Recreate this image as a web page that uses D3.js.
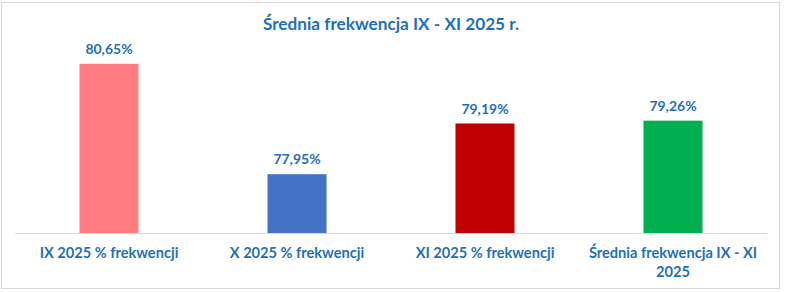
<!DOCTYPE html>
<html>
<head>
<meta charset="utf-8">
<script src="https://cdn.jsdelivr.net/npm/d3@7"></script>
<style>
  body { margin: 0; background: #fff; }
  text { font-family: Lato, "Open Sans", sans-serif; font-weight: bold; fill: #1f6fb8; }
</style>
</head>
<body>
<div class="chart"></div>
<script>
// dane
var categories = [["IX 2025 % frekwencji"], ["X 2025 % frekwencji"], ["XI 2025 % frekwencji"], ["Średnia frekwencja IX - XI", "2025"]];
var values = [80.65, 77.95, 79.19, 79.26];
var colors = ["#ff7c80", "#4472c4", "#c00000", "#00b050"];
var title = "Średnia frekwencja IX - XI 2025 r.";

drawChart();

function drawChart(){
    var w = 785;
    var h = 292;

    var svg = d3.select(".chart")
    .append("svg")
    .attr("width", w)
    .attr("height", h);

    // ramka wykresu
    svg.append("rect")
    .attr("x", 1.5).attr("y", 2.5)
    .attr("width", 778).attr("height", 286)
    .attr("fill", "#fff")
    .attr("stroke", "#d9d9d9");

    var x = d3.scaleBand()
    .domain(d3.range(values.length))
    .range([15, 767])
    .paddingInner(0.686)
    .paddingOuter(0.343);

    var y = d3.scaleLinear()
    .domain([76.5, 81])
    .range([233.5, 49.5]);

    // słupki
    svg.selectAll(".bar")
    .data(values)
    .enter()
    .append("rect")
    .attr("class", "bar")
    .attr("x", function(d, i){ return x(i); })
    .attr("y", function(d){ return y(d); })
    .attr("width", x.bandwidth())
    .attr("height", function(d){ return y(76.5) - y(d); })
    .attr("fill", function(d, i){ return colors[i]; });

    // oś X
    svg.append("line")
    .attr("x1", 15).attr("x2", 767)
    .attr("y1", 233.5).attr("y2", 233.5)
    .attr("stroke", "#d9d9d9")
    .attr("stroke-width", 1);

    // etykiety wartości
    svg.selectAll(".val")
    .data(values)
    .enter()
    .append("text")
    .attr("class", "val")
    .attr("x", function(d, i){ return x(i) + x.bandwidth()/2; })
    .attr("y", function(d){ return y(d) - 10; })
    .attr("text-anchor", "middle")
    .style("font-size", "14px")
    .text(function(d){ return d.toFixed(2).replace(".", ",") + "%"; });

    // etykiety kategorii
    var cat = svg.selectAll(".cat")
    .data(categories)
    .enter()
    .append("text")
    .attr("class", "cat")
    .attr("text-anchor", "middle")
    .attr("y", 258)
    .style("font-size", "14.6px");

    cat.selectAll("tspan")
    .data(function(d, i){ return d.map(function(s){ return {s: s, i: i}; }); })
    .enter()
    .append("tspan")
    .attr("x", function(d){ return x(d.i) + x.bandwidth()/2; })
    .attr("dy", function(d, j){ return j ? 19 : 0; })
    .text(function(d){ return d.s; });

    // tytuł
    svg.append("text")
    .attr("x", 391)
    .attr("y", 30)
    .attr("text-anchor", "middle")
    .style("font-size", "17.2px")
    .text(title);
}
</script>
</body>
</html>
